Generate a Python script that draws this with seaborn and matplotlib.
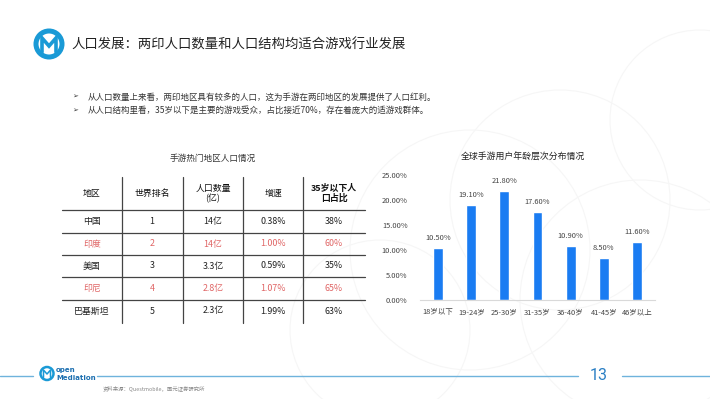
import matplotlib
matplotlib.use("Agg")
import matplotlib.pyplot as plt
import seaborn as sns
import pandas as pd
from matplotlib.patches import Circle

# ---- data ----
age_groups = ['18岁以下', '19-24岁', '25-30岁', '31-35岁', '36-40岁', '41-45岁', '46岁以上']
user_share = [10.5, 19.1, 21.8, 17.6, 10.9, 8.5, 11.6]
y_ticks = [0, 5, 10, 15, 20, 25]

table_header = ['地区', '世界排名', '人口数量\n(亿)', '增速', '35岁以下人\n口占比']
regions = ['中国', '印度', '美国', '印尼', '巴基斯坦']
ranks = ['1', '2', '3', '4', '5']
populations = ['14亿', '14亿', '3.3亿', '2.8亿', '2.3亿']
growth = ['0.38%', '1.00%', '0.59%', '1.07%', '1.99%']
under35 = ['38%', '60%', '35%', '65%', '63%']
highlight = [False, True, False, True, False]

title = '人口发展：两印人口数量和人口结构均适合游戏行业发展'
bullets = ['从人口数量上来看，两印地区具有较多的人口，这为手游在两印地区的发展提供了人口红利。',
           '从人口结构里看，35岁以下是主要的游戏受众，占比接近70%，存在着庞大的适游戏群体。']
table_title = '手游热门地区人口情况'
chart_title = '全球手游用户年龄层次分布情况'
source = '资料来源：Questmobile，国元证券研究所'
page_no = '13'

# ---- style ----
sns.set_theme(style='white')
plt.rcParams['font.family'] = ['Noto Sans CJK SC', 'DejaVu Sans']

W, H = 710, 399
fig = plt.figure(figsize=(W / 100, H / 100), dpi=100)
fig.patch.set_facecolor('white')

# overlay in pixel coords
ov = fig.add_axes([0, 0, 1, 1])
ov.set_xlim(0, W)
ov.set_ylim(H, 0)
ov.axis('off')

# faint background circles
for cx, cy, r in [(470, 250, 120), (560, 200, 110), (640, 300, 120), (380, 330, 90), (700, 120, 90)]:
    ov.add_patch(Circle((cx, cy), r, fill=False, ec='#f6f6f6', lw=0.8))

BLUE = '#1a9ad6'
# logo
ov.add_patch(Circle((49, 44), 13, fill=False, ec=BLUE, lw=3.6))
ov.plot([42, 42, 49, 56, 56], [52, 38, 46, 38, 52], color=BLUE, lw=2.6, solid_joinstyle='miter')
ov.text(71, 44.5, title, fontsize=9.6, color='#222222', va='center', ha='left')

for i, b in enumerate(bullets):
    y = 97 + i * 13.5
    ov.text(72, y, '➢', fontsize=5, color='#333333', va='center', ha='left', family='DejaVu Sans')
    ov.text(88, y, b, fontsize=6.1, color='#333333', va='center', ha='left')

# ---- table ----
ov.text(213, 158, table_title, fontsize=6.2, color='#333333', ha='center', va='center')
col_x = [92, 152, 213, 273, 334]
vlines = [122, 183, 243, 303]
for vx in vlines:
    ov.plot([vx, vx], [177, 323], color='#444444', lw=0.9)
for hy in [210, 233, 255, 277, 300]:
    ov.plot([62, 365], [hy, hy], color='#444444', lw=0.9)
for x, h in zip(col_x, table_header):
    ov.text(x, 193.5, h, fontsize=6.4, color='#111111', ha='center', va='center',
            linespacing=1.1, fontweight='bold' if h.startswith('35') else 'normal')
row_y = [221.5, 244, 266, 288.5, 311]
for i in range(len(regions)):
    c = '#e06666' if highlight[i] else '#222222'
    vals = [regions[i], ranks[i], populations[i], growth[i], under35[i]]
    for x, v in zip(col_x, vals):
        ov.text(x, row_y[i], v, fontsize=6.4, color=c, ha='center', va='center')

# ---- bar chart ----
ov.text(523, 157, chart_title, fontsize=6.4, color='#222222', ha='center', va='center')
ax = fig.add_axes([420 / W, 1 - 300 / H, 235 / W, 125 / H])
df = pd.DataFrame({'age': age_groups, 'share': user_share})
sns.barplot(data=df, x='age', y='share', color='#1a7cf2', width=0.3, ax=ax, saturation=1)
ax.set_ylim(0, 25)
ax.set_yticks(y_ticks)
ax.set_yticklabels([f'{t:.2f}%' for t in y_ticks], fontsize=5.4, color='#444444')
ax.tick_params(axis='x', labelsize=5.4, colors='#444444', length=0, pad=6)
ax.tick_params(axis='y', length=0, pad=9)
ax.set_xlabel('')
ax.set_ylabel('')
for s in ['top', 'right', 'left']:
    ax.spines[s].set_visible(False)
ax.spines['bottom'].set_color('#d9d9d9')
ax.spines['bottom'].set_linewidth(0.8)
ax.patch.set_alpha(0)
ax.set_xlim(-0.55, len(age_groups) - 0.45)
for cont in ax.containers:
    ax.bar_label(cont, fmt='%.2f%%', fontsize=5.4, color='#444444', padding=4)

# ---- footer ----
LB = '#6fb3dc'
ov.plot([0, 33], [376, 376], color=LB, lw=1)
ov.plot([97, 578], [376, 376], color=LB, lw=1)
ov.plot([622, 710], [376, 376], color=LB, lw=1)
ov.add_patch(Circle((47, 373.5), 6.5, fill=False, ec=BLUE, lw=1.8))
ov.plot([43.5, 43.5, 47, 50.5, 50.5], [377.5, 370, 374, 370, 377.5], color=BLUE, lw=1.1)
ov.text(56, 370, 'open', fontsize=5, color='#1c6fb0', ha='left', va='center', fontweight='bold', family='DejaVu Sans')
ov.text(56, 378, 'Mediation', fontsize=5, color='#1c6fb0', ha='left', va='center', fontweight='bold', family='DejaVu Sans')
ov.text(599, 375.5, page_no, fontsize=11.5, color='#2a7fc4', ha='center', va='center', family='Roboto')
ov.text(103, 388, source, fontsize=3.9, color='#888888', ha='left', va='center')

fig.savefig('out.png', dpi=100)
